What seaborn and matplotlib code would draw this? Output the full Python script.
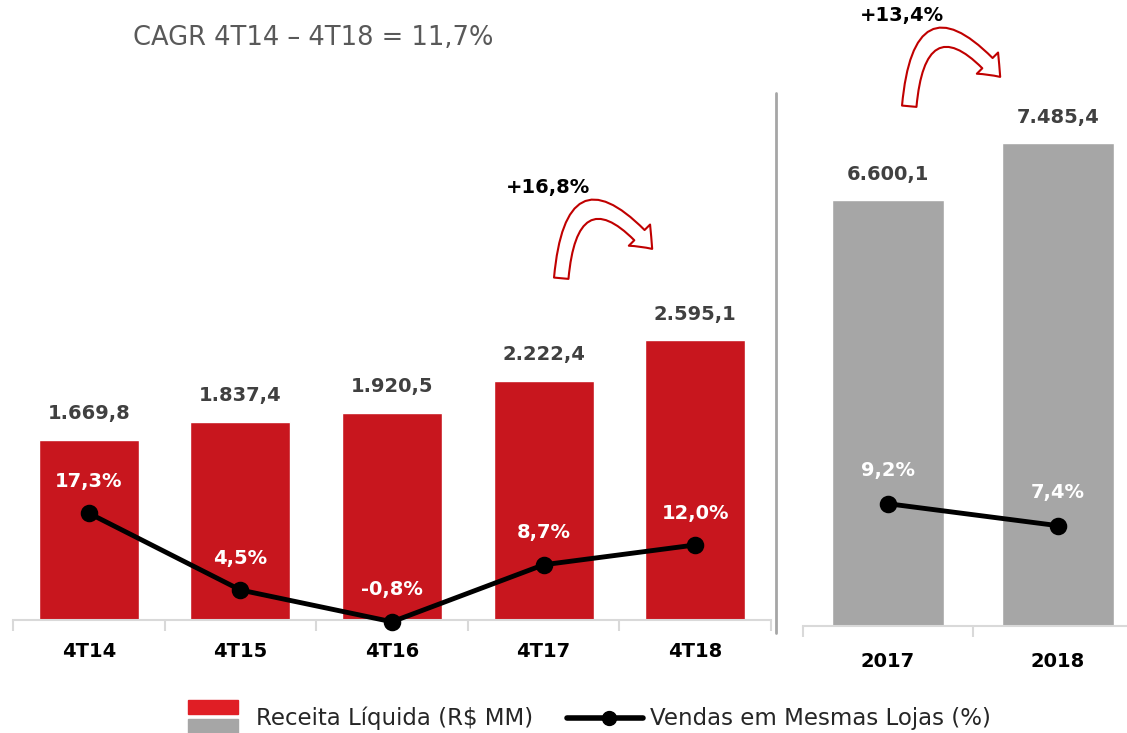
import matplotlib.pyplot as plt
import seaborn as sns
from matplotlib.patches import FancyArrowPatch, Rectangle
from matplotlib.lines import Line2D

# Data
quarters = ["4T14", "4T15", "4T16", "4T17", "4T18"]
quarter_revenue = [1669.8, 1837.4, 1920.5, 2222.4, 2595.1]
quarter_sss = [17.3, 4.5, -0.8, 8.7, 12.0]

years = ["2017", "2018"]
year_revenue = [6600.1, 7485.4]
year_sss = [9.2, 7.4]

RED = "#C8161E"
GRAY = "#A6A6A6"
DARK = "#404040"
AXIS = "#D9D9D9"

sns.set_style("white")
plt.rcParams["font.family"] = ["DejaVu Sans"]

W, H = 1127, 733
fig = plt.figure(figsize=(W / 100, H / 100), dpi=100)


def fx(px):
    return px / W


def fy(py):
    return 1 - py / H


def money(v):
    return f"{v:,.1f}".replace(",", "X").replace(".", ",").replace("X", ".")


def pct(v):
    return f"{v:.1f}".replace(".", ",") + "%"


def style_panel(ax, ax2, n, ylim, ylim2, pad):
    ax.set_xlim(-0.5, n - 0.5)
    ax.set_ylim(*ylim)
    ax2.set_ylim(*ylim2)
    for a in (ax, ax2):
        a.set_yticks([])
        a.set_ylabel("")
        a.set_xlabel("")
        for s in ["top", "left", "right"]:
            a.spines[s].set_visible(False)
    ax2.spines["bottom"].set_visible(False)
    for ln in ax2.lines:
        ln.set_clip_on(False)
    ax.spines["bottom"].set_color(AXIS)
    ax.spines["bottom"].set_linewidth(1.5)
    ax.set_xticks([i - 0.5 for i in range(n + 1)], minor=True)
    ax.tick_params(axis="x", which="minor", bottom=True, length=8, width=1.5,
                   color=AXIS)
    ax.tick_params(axis="x", which="major", bottom=True, length=0, pad=pad)
    for t in ax.get_xticklabels():
        t.set_fontweight("bold")
        t.set_fontsize(14)
        t.set_color("black")


# ---------------- Left panel: quarters ----------------
ax_l = fig.add_axes([fx(13), fy(620), (771 - 13) / W, (620 - 90) / H])
sns.barplot(x=quarters, y=quarter_revenue, color=RED, saturation=1,
            width=0.66, ax=ax_l)
ax_l.bar_label(ax_l.containers[0], labels=[money(v) for v in quarter_revenue],
               padding=12, fontsize=14, fontweight="bold", color=DARK)

ax_l2 = ax_l.twinx()
sns.pointplot(x=quarters, y=quarter_sss, color="black", errorbar=None,
              markersize=10, linewidth=3.5, ax=ax_l2)
for i, v in enumerate(quarter_sss):
    ax_l2.annotate(pct(v), (i, v), xytext=(0, 23), textcoords="offset points",
                   ha="center", va="center", color="white",
                   fontsize=14, fontweight="bold", annotation_clip=False)
style_panel(ax_l, ax_l2, len(quarters), (0, 4920), (-0.5, 87.8), 16)

# ---------------- Right panel: years ----------------
ax_r = fig.add_axes([fx(803), fy(626), 340 / W, (626 - 90) / H])
sns.barplot(x=years, y=year_revenue, color=GRAY, saturation=1,
            width=0.66, ax=ax_r)
ax_r.bar_label(ax_r.containers[0], labels=[money(v) for v in year_revenue],
               padding=12, fontsize=14, fontweight="bold", color=DARK)

ax_r2 = ax_r.twinx()
sns.pointplot(x=years, y=year_sss, color="black", errorbar=None,
              markersize=10, linewidth=3.5, ax=ax_r2)
for i, v in enumerate(year_sss):
    ax_r2.annotate(pct(v), (i, v), xytext=(0, 24), textcoords="offset points",
                   ha="center", va="center", color="white",
                   fontsize=14, fontweight="bold", annotation_clip=False)
style_panel(ax_r, ax_r2, len(years), (0, 8310), (-0.82, 43.1), 19)

# separator
fig.add_artist(Line2D([fx(776), fx(776)], [fy(93), fy(633)],
                      color=GRAY, lw=2, transform=fig.transFigure))

# title
fig.text(fx(133), fy(38), "CAGR 4T14 – 4T18 = 11,7%", fontsize=18.5,
         color="#595959", va="center", ha="left")

# growth callouts
fig.text(fx(548), fy(188), "+16,8%", fontsize=14, fontweight="bold",
         ha="center", va="center", color="black")
fig.text(fx(902), fy(15), "+13,4%", fontsize=14, fontweight="bold",
         ha="center", va="center", color="black")

for a, b in [((561, 281), (654, 251)), ((909, 109), (1002, 79))]:
    arrow = FancyArrowPatch(
        posA=(fx(a[0]), fy(a[1])), posB=(fx(b[0]), fy(b[1])),
        transform=fig.transFigure, connectionstyle="arc3,rad=-1.2",
        arrowstyle="simple,head_length=0.75,head_width=1.2,tail_width=0.58",
        mutation_scale=18, fc="white", ec="#C00000", lw=1.5)
    fig.add_artist(arrow)

# legend (drawn by hand)
fig.add_artist(Rectangle((fx(188), fy(714)), 50 / W, 14 / H, color="#E01E25",
                         transform=fig.transFigure))
fig.add_artist(Rectangle((fx(188), fy(733)), 50 / W, 14 / H, color=GRAY,
                         transform=fig.transFigure))
fig.text(fx(256), fy(718), "Receita Líquida (R$ MM)", fontsize=16.5,
         color="#262626", va="center", ha="left")
fig.add_artist(Line2D([fx(567), fx(643)], [fy(718), fy(718)], color="black",
                      lw=4, transform=fig.transFigure))
fig.add_artist(Line2D([fx(609)], [fy(718)], color="black", marker="o", ms=10,
                      transform=fig.transFigure))
fig.text(fx(650), fy(718), "Vendas em Mesmas Lojas (%)", fontsize=16.5,
         color="#262626", va="center", ha="left")

fig.savefig("out.png", dpi=100)
